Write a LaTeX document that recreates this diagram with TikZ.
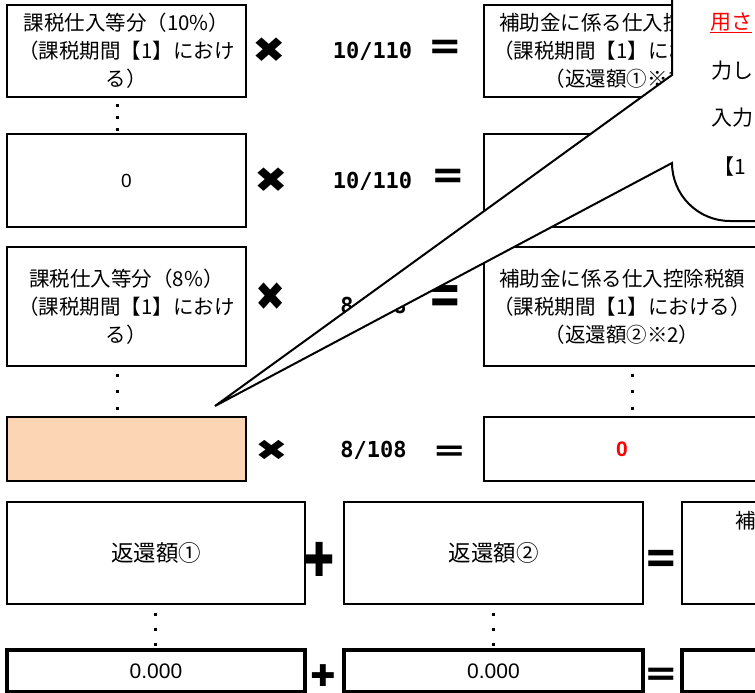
\documentclass[tikz,border=0pt]{standalone}
\usepackage{fontspec}
\setmainfont{Noto Sans CJK JP}
\newfontfamily\lat{Liberation Sans}
\newfontfamily\monof{DejaVu Sans Mono}
\newfontfamily\opf{DejaVu Sans}
\definecolor{peach}{HTML}{FCD5B4}
\begin{document}
\begin{tikzpicture}[x=1pt,y=-1pt,
  box/.style={draw=black,line width=2pt,rectangle,inner sep=0pt,outer sep=0pt,
    align=center,font=\fontsize{20.5}{28}\selectfont},
  thickbox/.style={box,line width=3.5pt},
  frac/.style={inner sep=0pt,font=\monof\bfseries\fontsize{22}{22}\selectfont},
  op/.style={inner sep=0pt,font=\opf\bfseries},
  dotsA/.style={line width=3pt,dash pattern=on 3pt off 9pt,dash phase=5.5pt},
  dotsB/.style={line width=3pt,dash pattern=on 3pt off 13.5pt,dash phase=9pt},
  dotsC/.style={line width=3pt,dash pattern=on 3pt off 12pt,dash phase=6.5pt},
  callouttext/.style={inner sep=0pt,anchor=west,font=\fontsize{21}{21}\selectfont}]
\useasboundingbox (0,0) rectangle (755,693);
\clip (0,0) rectangle (755,693);
% left column
\node[box,minimum width=239pt,minimum height=92pt] (L1) at (126.5,51)
  {課税仕入等分（10\%）\\（課税期間【1】におけ\\る）};
\node[box,minimum width=239pt,minimum height=93pt,font=\lat\fontsize{19}{19}\selectfont] (L2) at (126.5,180.5) {0};
\node[box,minimum width=239pt,minimum height=119pt] (L3) at (126.5,306.5)
  {課税仕入等分（8\%）\\（課税期間【1】におけ\\る）};
\node[box,fill=peach,minimum width=239pt,minimum height=64pt] (L4) at (126.5,449) {};
% right column
\node[box,minimum width=276pt,minimum height=92pt] (R1) at (622,51)
  {補助金に係る仕入控除税額\\（課税期間【1】における）\\（返還額①※1）};
\node[box,minimum width=276pt,minimum height=93pt] (R2) at (622,180.5) {};
\node[box,minimum width=276pt,minimum height=119pt] (R3) at (622,306.5)
  {補助金に係る仕入控除税額\\（課税期間【1】における）\\（返還額②※2）};
\node[box,minimum width=276pt,minimum height=64pt,text=red,font=\lat\bfseries\fontsize{21}{21}\selectfont] (R4) at (622,449) {0};
% operators rows 1-4
\node[op,font=\opf\bfseries\fontsize{40}{40}\selectfont] (m1) at (269,50) {\scalebox{1}[0.88]{✖}};
\node[op,font=\opf\bfseries\fontsize{40}{40}\selectfont] (m2) at (271.5,180.5) {\scalebox{1}[0.88]{✖}};
\node[op,font=\opf\bfseries\fontsize{36}{36}\selectfont] (m3) at (270.5,296.5) {\scalebox{1}[1.1]{✖}};
\node[op,font=\opf\bfseries\fontsize{39}{39}\selectfont] (m4) at (271.5,450) {\scalebox{1}[0.74]{✖}};
\node[frac] (f1) at (372.5,51) {10/110};
\node[frac] (f2) at (372.5,181) {10/110};
\node[frac] (f3) at (373.5,306) {8/108};
\node[frac] (f4) at (373.5,450) {8/108};
\node[op,font=\opf\bfseries\fontsize{40}{40}\selectfont] (e1) at (445.5,50) {=};
\node[op,font=\opf\bfseries\fontsize{40}{40}\selectfont] (e2) at (448.5,179) {=};
\node[op,font=\opf\bfseries\fontsize{40}{40}\selectfont] (e3) at (445.5,300) {\scalebox{1}[1.5]{=}};
\node[op,font=\opf\bfseries\fontsize{40}{40}\selectfont] (e4) at (449.5,453) {\scalebox{1}[0.75]{=}};
% rows 5-6
\node[box,minimum width=298pt,minimum height=102pt,font=\fontsize{22.5}{22.5}\selectfont] (B1) at (156,553) {返還額①};
\node[box,minimum width=299pt,minimum height=102pt,font=\fontsize{22.5}{22.5}\selectfont] (B2) at (493.5,553) {返還額②};
\node[box,minimum width=298pt,minimum height=102pt] (B3) at (831,553) {};
\node[inner sep=0pt,anchor=west,font=\fontsize{20.5}{20.5}\selectfont] (B3t) at (735,521) {補};
\node[thickbox,minimum width=298pt,minimum height=42pt,font=\lat\fontsize{21}{21}\selectfont] (C1) at (156,671) {0.000};
\node[thickbox,minimum width=299pt,minimum height=42pt,font=\lat\fontsize{21}{21}\selectfont] (C2) at (493.5,671) {0.000};
\node[thickbox,minimum width=298pt,minimum height=42pt] (C3) at (831,671) {};
\node[op,font=\opf\bfseries\fontsize{36}{36}\selectfont] (p1) at (320,559.5) {\scalebox{1}[1.3]{✚}};
\node[op,font=\opf\bfseries\fontsize{30}{30}\selectfont] (p2) at (323,675.5) {✚};
\node[op,font=\opf\bfseries\fontsize{40}{40}\selectfont] (e5) at (661,561.5) {\scalebox{1}[1.2]{=}};
\node[op,font=\opf\bfseries\fontsize{40}{40}\selectfont] (e6) at (661,677) {\scalebox{1}[0.9]{=}};
% vertical dots
\draw[dotsA] ([xshift=-9.5pt]L1.south) -- ([xshift=-9.5pt]L2.north);
\draw[dotsB] ([xshift=-9.5pt]L3.south) -- ([xshift=-9.5pt]L4.north);
\draw[dotsB] ([xshift=10pt]R3.south) -- ([xshift=10pt]R4.north);
\draw[dotsC] ([xshift=-1pt]B1.south) -- ([xshift=-1pt]C1.north);
\draw[dotsC] (B2.south) -- (C2.north);
% callout
\coordinate (tip) at (215,406);
\draw[fill=white,line width=2pt,line join=miter] (672,-5) -- (672,75) -- (tip) -- (672,163)
  .. controls (672,195) and (698,221) .. (730,221) -- (800,221) -- (800,-5) -- cycle;
\node[callouttext,text=red] (c1) at (710,23) {\underline{用さ}};
\node[callouttext] (c2) at (711,71) {力し};
\node[callouttext] (c3) at (711,118) {入力};
\node[callouttext] (c4) at (713,167) {【1};
\end{tikzpicture}
\end{document}
